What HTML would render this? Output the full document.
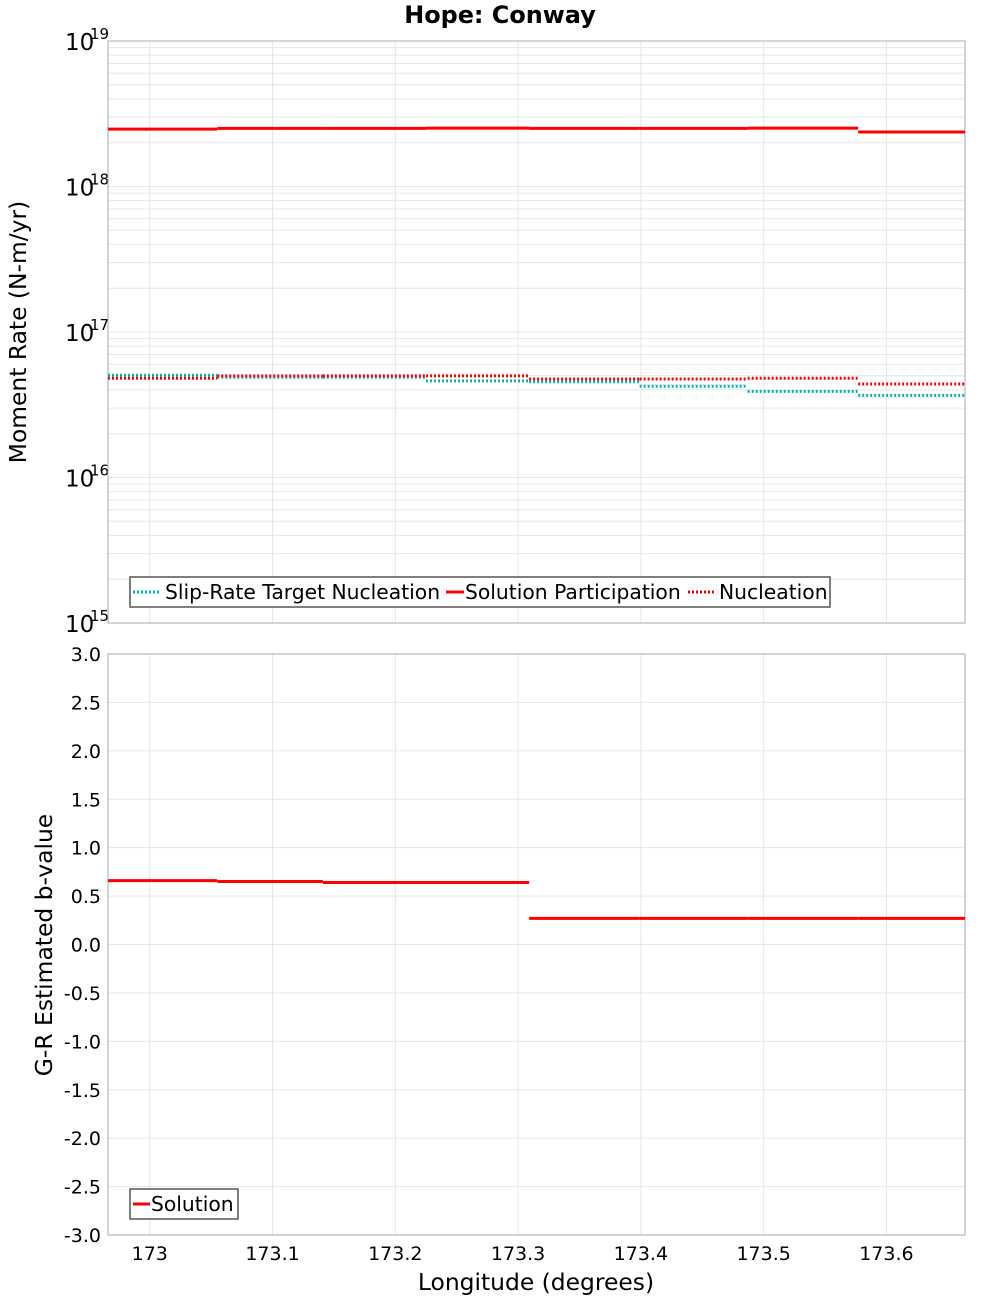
<!DOCTYPE html>
<html><head><meta charset="utf-8"><style>
html,body{margin:0;padding:0;background:#fff;}
svg text{font-family:"DejaVu Sans","Liberation Sans",sans-serif;}
</style></head><body>
<svg id="c" width="1000" height="1300" xmlns="http://www.w3.org/2000/svg">
<text x="500" y="23" text-anchor="middle" font-size="23.9" font-weight="bold">Hope: Conway</text>
<g id="gtop"></g><g id="gbot"></g>
</svg>
<script>
const edges = [172.966, 173.055, 173.141, 173.225, 173.309, 173.399, 173.487, 173.577, 173.664];
const targetNucleation = [5.04e16, 4.89e16, 4.89e16, 4.61e16, 4.55e16, 4.24e16, 3.91e16, 3.67e16];
const solutionParticipation = [2.48e18, 2.51e18, 2.51e18, 2.52e18, 2.51e18, 2.51e18, 2.52e18, 2.37e18];
const nucleation = [4.81e16, 4.99e16, 4.99e16, 4.99e16, 4.75e16, 4.75e16, 4.81e16, 4.39e16];
const bValues = [0.66, 0.65, 0.64, 0.64, 0.27, 0.27, 0.27, 0.27];
const xTicks = [173, 173.1, 173.2, 173.3, 173.4, 173.5, 173.6];
const xTickLabels = ["173", "173.1", "173.2", "173.3", "173.4", "173.5", "173.6"];
const yTopExp = [15, 16, 17, 18, 19];
const yBotTicks = [-3, -2.5, -2, -1.5, -1, -0.5, 0, 0.5, 1, 1.5, 2, 2.5, 3];

const NS = "http://www.w3.org/2000/svg";
const L = 108, R = 965, T1 = 41, B1 = 623, T2 = 654, B2 = 1235;
const xMin = 172.966, xMax = 173.664;
function sx(v){return L + (v - xMin) / (xMax - xMin) * (R - L);}
function sy1(v){return B1 - (Math.log10(v) - 15) / 4 * (B1 - T1);}
function sy2(v){return B2 - (v + 3) / 6 * (B2 - T2);}
function mk(parent, tag, attrs, text){
  const e = document.createElementNS(NS, tag);
  for (const k in attrs) e.setAttribute(k, attrs[k]);
  if (text !== undefined) e.textContent = text;
  parent.appendChild(e); return e;
}
const gTop = document.getElementById('gtop'), gBot = document.getElementById('gbot');

for (let e = 15; e < 19; e++) for (let m = 1; m < 10; m++) {
  const y = sy1(m * Math.pow(10, e));
  const g = mk(gTop, 'line', {x1:L, x2:R, y1:y, y2:y, stroke:'#e6e6e6', 'stroke-width':1});
  
  
}
yBotTicks.forEach(v => {
  const y = sy2(v);
  const g = mk(gBot, 'line', {x1:L, x2:R, y1:y, y2:y, stroke:'#e6e6e6', 'stroke-width':1});
  
  
  const t = mk(gBot, 'text', {x:101, y:y + 7, 'text-anchor':'end', 'font-size':19}, v.toFixed(1));
  
  
});
xTicks.forEach((v, i) => {
  const x = sx(v);
  [[gTop, T1, B1], [gBot, T2, B2]].forEach(([p, a, b]) => {
    const g = mk(p, 'line', {x1:x, x2:x, y1:a, y2:b, stroke:'#e6e6e6', 'stroke-width':1});
    
    
  });
  const t = mk(gBot, 'text', {x:x, y:1260, 'text-anchor':'middle', 'font-size':19}, xTickLabels[i]);
  
  
});
yTopExp.forEach(e => {
  const y = sy1(Math.pow(10, e));
  const t = mk(gTop, 'text', {x:65, y:y + 9, 'font-size':23}, '10');
  
  
  const s = mk(gTop, 'text', {x:90, y:y - 2, 'font-size':15}, String(e));
  
  
});
[[T1, B1, gTop], [T2, B2, gBot]].forEach(([a, b, p]) => {
  const r = mk(p, 'rect', {x:L, y:a, width:R - L, height:b - a, fill:'none', stroke:'#aaa', 'stroke-width':1});
  
  
});
function steps(p, vals, sy, color, dash, name){
  vals.forEach((v, i) => {
    const attrs = {x1:sx(edges[i]), x2:sx(edges[i+1]), y1:sy(v), y2:sy(v), stroke:color, 'stroke-width':3};
    if (dash) attrs['stroke-dasharray'] = '2,2';
    const l = mk(p, 'line', attrs);
    
    
  });
}
steps(gTop, targetNucleation, sy1, '#00b4b4', true, 'target-nucleation-step');
steps(gTop, nucleation, sy1, '#ff0000', true, 'nucleation-step');
steps(gTop, solutionParticipation, sy1, '#ff0000', false, 'solution-participation-step');
steps(gBot, bValues, sy2, '#ff0000', false, 'b-value-step');
</script>
<svg style="position:absolute;left:0;top:0" width="1000" height="1300" xmlns="http://www.w3.org/2000/svg">
<text transform="translate(26,332) rotate(-90)" text-anchor="middle" font-size="23.4" font-family="DejaVu Sans,sans-serif">Moment Rate (N-m/yr)</text>
<text transform="translate(52,945) rotate(-90)" text-anchor="middle" font-size="23.4" font-family="DejaVu Sans,sans-serif">G-R Estimated b-value</text>
<text x="536" y="1290" text-anchor="middle" font-size="23.4" font-family="DejaVu Sans,sans-serif">Longitude (degrees)</text>
<g font-family="DejaVu Sans,sans-serif" font-size="20.3">
<rect x="130" y="577" width="700" height="30" fill="#fff" stroke="#555" stroke-width="1.5"/>
<line x1="133" x2="161" y1="592" y2="592" stroke="#00b4b4" stroke-width="3" stroke-dasharray="2,2"/>
<text x="165" y="599">Slip-Rate Target Nucleation</text>
<line x1="446" x2="464" y1="592" y2="592" stroke="#f00" stroke-width="3"/>
<text x="465" y="599">Solution Participation</text>
<line x1="688" x2="716" y1="592" y2="592" stroke="#f00" stroke-width="3" stroke-dasharray="2,2"/>
<text x="719" y="599">Nucleation</text>
</g>
<g font-family="DejaVu Sans,sans-serif" font-size="20.3">
<rect x="130" y="1189" width="108" height="30" fill="#fff" stroke="#555" stroke-width="1.5"/>
<line x1="133" x2="150" y1="1204" y2="1204" stroke="#f00" stroke-width="3"/>
<text x="151" y="1211">Solution</text>
</g>
</svg>
</body></html>
